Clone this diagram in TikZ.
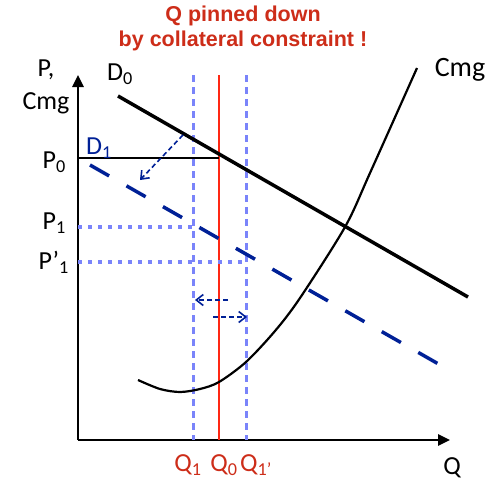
\documentclass[tikz,border=0pt]{standalone}
\usepackage{fontspec}
\setmainfont{Carlito}
\newfontfamily\titlefont{Liberation Sans}
\usetikzlibrary{arrows.meta}
\definecolor{navy}{RGB}{0,32,150}
\definecolor{paleblue}{RGB}{122,132,250}
\definecolor{brightred}{RGB}{255,40,20}
\definecolor{titlered}{RGB}{205,45,25}

\begin{document}
\begin{tikzpicture}[x=1pt, y=-1pt,
    axis/.style={-{Triangle[length=12pt,width=11pt]}, line width=2.7pt},
    demand/.style={line width=3.5pt},
    shifted/.style={navy, line width=3.5pt, dash pattern=on 22pt off 20pt},
    bound/.style={paleblue, line width=3pt, dash pattern=on 7pt off 5pt},
    level/.style={paleblue, line width=3.5pt, dash pattern=on 4pt off 6pt},
    move/.style={-{Straight Barb[length=7pt,width=11pt]}, navy, line width=1.6pt,
                 dash pattern=on 5pt off 3pt},
    lab/.style={font=\fontsize{26}{33}\selectfont, inner sep=0pt, align=center},
    qlab/.style={lab, text=titlered},
    title/.style={font=\titlefont\bfseries\fontsize{21.5}{25}\selectfont,
                  text=titlered, align=center},
]
    \useasboundingbox (0,0) rectangle (487,487);

    % title
    \node[title] (head) at (243,28) {Q pinned down\\by collateral constraint !};

    % axes
    \coordinate (O) at (78,440);
    \coordinate (ytop) at (78,75);
    \coordinate (xend) at (450,440);
    \draw[axis] (O) -- (ytop);
    \draw[axis] (O) -- (xend);
    \node[lab] (ylab) at (46,87) {P,\\Cmg};
    \node[lab] (xlab) at (452,468) {Q};

    % quantities
    \coordinate (q1top) at (193,75);
    \coordinate (q1) at (193,440);
    \coordinate (q0top) at (219,75);
    \coordinate (q0) at (219,440);
    \coordinate (q1ptop) at (246,75);
    \coordinate (q1p) at (246,440);
    \draw[bound] (q1top) -- (q1);
    \draw[bound] (q1ptop) -- (q1p);
    \draw[brightred, line width=2pt] (q0top) -- (q0);
    \node[qlab] (q1lab) at (188,465) {Q\textsubscript{1}};
    \node[qlab] (q0lab) at (224,465) {Q\textsubscript{0}};
    \node[qlab] (q1plab) at (256,465) {Q\textsubscript{1’}};

    % prices
    \coordinate (p0) at (78,158);
    \coordinate (p0end) at (219,158);
    \coordinate (p1) at (78,227);
    \coordinate (p1end) at (193,227);
    \coordinate (p1p) at (78,262);
    \coordinate (p1pend) at (246,262);
    \draw[line width=2.5pt] (p0) -- (p0end);
    \draw[level] (p1) -- (p1end);
    \draw[level] (p1p) -- (p1pend);
    \node[lab, anchor=east] (p0lab) at (66,162) {P\textsubscript{0}};
    \node[lab, anchor=east] (p1lab) at (66,223) {P\textsubscript{1}};
    \node[lab, anchor=east] (p1plab) at (69,262) {P’\textsubscript{1}};

    % demand curves
    \coordinate (d0a) at (118,96);
    \coordinate (d0b) at (468,297);
    \draw[demand] (d0a) -- (d0b);
    \node[lab] (d0lab) at (120,74) {D\textsubscript{0}};
    \coordinate (d1a) at (90,165);
    \coordinate (d1b) at (442,366);
    \draw[shifted] (d1a) -- (d1b);
    \node[lab, text=navy] (d1lab) at (99,148) {D\textsubscript{1}};

    % marginal cost
    \draw[line width=2.2pt] plot[smooth, tension=0.5] coordinates
        {(138,380) (160,389) (180,392) (200,389) (219,382) (246,362)
         (275,331) (300,298) (345,227) (370,173) (417,68)};
    \node[lab, font=\fontsize{28}{33}\selectfont] (cmglab) at (460,70) {Cmg};

    % shifts
    \coordinate (sa) at (183,135);
    \coordinate (sb) at (140,180);
    \draw[move] (sa) -- (sb);
    \coordinate (la) at (228,300);
    \coordinate (lb) at (195,300);
    \draw[move] (la) -- (lb);
    \coordinate (ra) at (213,317);
    \coordinate (rb) at (247,317);
    \draw[move] (ra) -- (rb);

\end{tikzpicture}
\end{document}
